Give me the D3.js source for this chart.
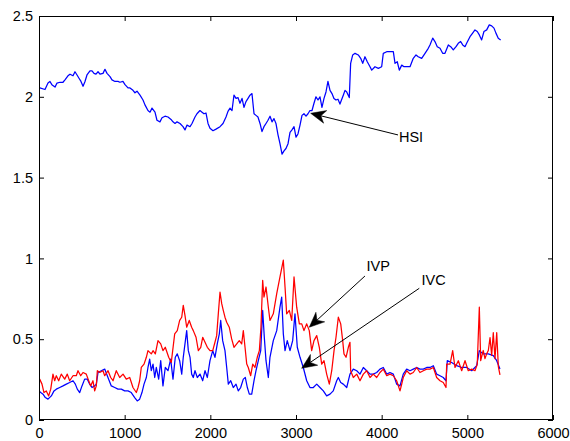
<!DOCTYPE html>
<html><head><meta charset="utf-8">
<script src="https://cdn.jsdelivr.net/npm/d3@7"></script>
<style>body{margin:0;background:#fff}svg{display:block}</style>
</head><body>
<svg id="c" width="570" height="441"></svg>
<script>
// ---- data ----
const xTicks=[0,1000,2000,3000,4000,5000,6000];
const yTicks=[0,0.5,1,1.5,2,2.5];
const hsiX=[0,10,70,105,128,150,187,210,245,280,303,338,362,397,420,444,467,490,514,537,560,595,619,642,665,689,712,747,770,794,829,852,887,922,945,980,1004,1039,1062,1097,1120,1144,1179,1214,1237,1272,1296,1319,1354,1377,1412,1436,1471,1506,1541,1564,1588,1611,1646,1681,1704,1728,1763,1786,1821,1844,1879,1903,1926,1949,1973,1996,2031,2066,2113,2148,2183,2206,2230,2253,2276,2300,2323,2346,2370,2393,2416,2440,2463,2486,2510,2533,2556,2580,2603,2626,2650,2673,2697,2720,2743,2766,2790,2813,2837,2860,2883,2907,2930,2953,2977,3000,3023,3047,3070,3093,3117,3140,3163,3187,3210,3233,3257,3280,3303,3327,3350,3373,3397,3420,3443,3467,3490,3513,3552,3572,3592,3622,3638,3662,3689,3727,3755,3779,3805,3832,3864,3884,3922,3961,4000,4019,4059,4097,4136,4156,4182,4206,4234,4261,4292,4331,4369,4401,4427,4467,4506,4544,4564,4596,4622,4649,4681,4712,4739,4778,4806,4836,4868,4894,4922,4946,4973,4992,5031,5062,5089,5116,5140,5167,5194,5226,5256,5284,5311,5334,5361,5389];
const hsiY=[2.065,2.055,2.045,2.085,2.095,2.075,2.06,2.085,2.09,2.09,2.105,2.13,2.14,2.13,2.155,2.135,2.115,2.095,2.065,2.095,2.135,2.16,2.16,2.145,2.14,2.155,2.14,2.145,2.17,2.145,2.125,2.105,2.095,2.095,2.09,2.095,2.075,2.055,2.055,2.04,2.025,2.035,2.01,1.98,1.95,1.915,1.905,1.93,1.905,1.855,1.845,1.87,1.88,1.875,1.86,1.845,1.835,1.845,1.835,1.815,1.795,1.825,1.815,1.835,1.875,1.895,1.915,1.905,1.895,1.90,1.835,1.805,1.79,1.80,1.815,1.835,1.875,1.91,1.93,1.915,2.01,1.99,1.995,1.96,1.99,1.935,1.97,1.99,2.01,2.02,1.895,1.885,1.875,1.835,1.785,1.815,1.835,1.855,1.88,1.845,1.865,1.835,1.765,1.71,1.645,1.665,1.68,1.71,1.78,1.795,1.815,1.75,1.77,1.825,1.885,1.895,1.88,1.895,1.915,1.915,1.96,2.00,1.98,2.00,1.935,1.99,2.03,2.095,2.04,2.02,1.99,1.98,1.985,1.955,2.01,2.04,2.03,1.995,2.207,2.259,2.269,2.259,2.238,2.207,2.248,2.217,2.186,2.165,2.186,2.176,2.186,2.269,2.279,2.279,2.279,2.207,2.217,2.165,2.196,2.186,2.186,2.186,2.238,2.259,2.248,2.238,2.269,2.30,2.321,2.363,2.342,2.31,2.30,2.269,2.269,2.321,2.31,2.29,2.31,2.331,2.342,2.321,2.31,2.331,2.372,2.394,2.414,2.404,2.383,2.352,2.404,2.414,2.445,2.439,2.425,2.394,2.363,2.352];
const ivcX=[0,20,47,74,105,144,175,202,242,280,319,358,397,424,447,475,502,533,564,592,619,650,669,689,727,767,805,844,884,922,961,1000,1039,1077,1117,1147,1175,1202,1226,1253,1272,1292,1311,1331,1351,1369,1397,1421,1447,1474,1506,1537,1564,1591,1614,1642,1666,1684,1704,1724,1743,1763,1782,1801,1821,1848,1879,1911,1938,1965,1996,2028,2054,2081,2105,2121,2144,2171,2191,2210,2238,2268,2300,2326,2354,2385,2408,2432,2455,2483,2510,2533,2560,2588,2611,2630,2650,2677,2696,2735,2775,2813,2833,2852,2872,2898,2930,2961,2988,3015,3047,3085,3125,3163,3202,3242,3280,3319,3358,3397,3435,3475,3494,3522,3552,3592,3630,3669,3709,3747,3786,3825,3864,3902,3942,3980,4019,4059,4097,4136,4175,4214,4252,4292,4331,4369,4409,4447,4486,4526,4564,4603,4642,4681,4719,4751,4766,4817,4876,4934,4992,5051,5109,5140,5186,5245,5303,5343,5381];
const ivcY=[0.180,0.170,0.160,0.139,0.129,0.149,0.180,0.191,0.201,0.211,0.222,0.232,0.243,0.222,0.191,0.170,0.211,0.253,0.253,0.222,0.201,0.211,0.222,0.294,0.305,0.315,0.263,0.211,0.201,0.191,0.191,0.180,0.180,0.170,0.139,0.118,0.129,0.170,0.222,0.263,0.325,0.377,0.305,0.346,0.263,0.325,0.253,0.367,0.211,0.325,0.305,0.377,0.253,0.388,0.409,0.367,0.284,0.388,0.471,0.553,0.429,0.388,0.284,0.263,0.305,0.263,0.284,0.243,0.305,0.263,0.367,0.429,0.388,0.471,0.533,0.616,0.491,0.429,0.325,0.222,0.243,0.201,0.222,0.180,0.201,0.253,0.263,0.201,0.160,0.160,0.243,0.305,0.367,0.429,0.678,0.512,0.367,0.263,0.388,0.491,0.553,0.698,0.761,0.533,0.429,0.491,0.429,0.491,0.657,0.450,0.388,0.325,0.243,0.201,0.201,0.222,0.201,0.180,0.149,0.160,0.180,0.243,0.263,0.232,0.222,0.201,0.284,0.315,0.305,0.284,0.325,0.305,0.284,0.284,0.294,0.315,0.325,0.284,0.294,0.284,0.222,0.211,0.284,0.315,0.305,0.315,0.325,0.315,0.315,0.325,0.325,0.336,0.284,0.274,0.263,0.243,0.367,0.356,0.336,0.325,0.325,0.305,0.336,0.429,0.409,0.409,0.398,0.367,0.315];
const ivpX=[8,35,58,85,113,137,163,183,202,230,260,300,330,358,397,435,455,487,514,552,580,603,630,650,669,681,709,747,767,806,837,864,902,942,981,1019,1059,1097,1136,1156,1175,1194,1226,1253,1272,1311,1331,1358,1389,1421,1447,1474,1514,1544,1584,1614,1642,1666,1684,1704,1724,1754,1782,1801,1833,1860,1888,1911,1938,1965,1996,2028,2054,2074,2093,2113,2133,2151,2171,2191,2221,2249,2276,2308,2338,2366,2385,2405,2425,2443,2471,2495,2521,2548,2572,2591,2611,2626,2650,2677,2696,2735,2775,2813,2852,2872,2891,2922,2950,2977,3008,3039,3067,3093,3125,3155,3183,3210,3242,3272,3300,3327,3358,3389,3417,3444,3467,3494,3522,3545,3560,3584,3611,3630,3638,3669,3709,3747,3786,3825,3864,3902,3942,3980,4019,4059,4097,4136,4175,4214,4234,4252,4292,4331,4369,4409,4447,4486,4526,4564,4603,4642,4681,4719,4751,4759,4798,4829,4856,4895,4934,4973,5011,5051,5089,5116,5140,5156,5171,5186,5206,5226,5245,5265,5284,5303,5323,5343,5362,5381];
const ivpY=[0.253,0.222,0.170,0.180,0.149,0.191,0.284,0.243,0.274,0.243,0.284,0.253,0.284,0.243,0.274,0.274,0.305,0.274,0.294,0.284,0.243,0.211,0.243,0.180,0.211,0.305,0.294,0.305,0.274,0.305,0.263,0.243,0.305,0.263,0.284,0.253,0.263,0.201,0.170,0.201,0.243,0.325,0.346,0.388,0.429,0.409,0.429,0.409,0.491,0.471,0.429,0.450,0.388,0.356,0.533,0.553,0.616,0.636,0.709,0.647,0.574,0.616,0.574,0.553,0.512,0.429,0.450,0.512,0.481,0.450,0.429,0.429,0.481,0.522,0.657,0.792,0.720,0.678,0.636,0.605,0.574,0.502,0.450,0.471,0.491,0.471,0.553,0.450,0.346,0.325,0.274,0.346,0.325,0.388,0.429,0.574,0.864,0.761,0.823,0.698,0.616,0.657,0.782,0.885,0.989,0.823,0.657,0.678,0.616,0.885,0.698,0.595,0.595,0.553,0.595,0.553,0.429,0.491,0.522,0.450,0.346,0.367,0.284,0.222,0.305,0.429,0.512,0.636,0.595,0.491,0.409,0.388,0.450,0.481,0.305,0.263,0.284,0.243,0.284,0.305,0.263,0.284,0.263,0.294,0.315,0.274,0.284,0.274,0.243,0.180,0.222,0.263,0.305,0.284,0.294,0.325,0.294,0.305,0.315,0.315,0.325,0.263,0.243,0.232,0.201,0.346,0.346,0.429,0.325,0.367,0.305,0.367,0.305,0.315,0.305,0.346,0.698,0.367,0.400,0.430,0.380,0.410,0.430,0.510,0.400,0.540,0.380,0.540,0.330,0.280];
// annotations: text, tail (data), tip (data), text anchor position (data)
const annLabels=["HSI","IVP","IVC"];
const annTail=[[4191,1.764],[3805,0.891],[4439,0.815]];
const annTip=[[3171,1.898],[3155,0.574],[3066,0.320]];
const annText=[[4202,1.751],[3823,0.922],[4465,0.838]];

// ---- chart ----
const svg=d3.select("#c");
const L=39,R=553,T=16,B=420;
const x=d3.scaleLinear().domain([0,6000]).range([L,R]);
const y=d3.scaleLinear().domain([0,2.5]).range([B,T]);
const font="'Liberation Sans', Arial, Helvetica, sans-serif";

svg.append("rect").attr("width",570).attr("height",441).attr("fill","#fff");

const clip=svg.append("defs").append("clipPath").attr("id","pc");
clip.append("rect").attr("x",L).attr("y",T).attr("width",R-L).attr("height",B-T);

const line=d3.line().x(d=>x(d[0])).y(d=>y(d[1]));
const g=svg.append("g").attr("clip-path","url(#pc)");
const series=[
  {xs:hsiX,ys:hsiY,c:"#0000ff"},
  {xs:ivcX,ys:ivcY,c:"#0000ff"},
  {xs:ivpX,ys:ivpY,c:"#ff0000"}
];
series.forEach(s=>{
  g.append("path").datum(s.xs.map((v,i)=>[v,s.ys[i]]))
   .attr("d",line).attr("fill","none").attr("stroke",s.c)
   .attr("stroke-width",1.25).attr("stroke-linejoin","round");
});

// axes
function styleAxis(sel){
  sel.select(".domain").remove();
  sel.selectAll(".tick line").attr("stroke","#000").attr("stroke-width",1);
  sel.selectAll(".tick text").attr("fill","#000").style("font-family",font).style("font-size","14.5px");
}
svg.append("g").attr("transform",`translate(0,${B})`)
  .call(d3.axisBottom(x).tickValues(xTicks).tickFormat(d3.format("d")).tickSizeInner(-5).tickSizeOuter(0).tickPadding(8)).call(styleAxis);
svg.append("g").attr("transform",`translate(0,${T})`)
  .call(d3.axisTop(x).tickValues(xTicks).tickFormat("").tickSizeInner(-5).tickSizeOuter(0)).call(styleAxis);
svg.append("g").attr("transform",`translate(${L},0)`)
  .call(d3.axisLeft(y).tickValues(yTicks).tickFormat(d=>String(d)).tickSizeInner(-5).tickSizeOuter(0).tickPadding(6)).call(styleAxis);
svg.append("g").attr("transform",`translate(${R},0)`)
  .call(d3.axisRight(y).tickValues(yTicks).tickFormat("").tickSizeInner(-5).tickSizeOuter(0)).call(styleAxis);

svg.append("rect").attr("x",L+0.5).attr("y",T+0.5).attr("width",R-L-1).attr("height",B-T-1)
  .attr("fill","none").attr("stroke","#000").attr("stroke-width",1);

// annotations
const ag=svg.append("g");
annLabels.forEach((t,i)=>{
  const tx=x(annTail[i][0]),ty=y(annTail[i][1]);
  const hx=x(annTip[i][0]),hy=y(annTip[i][1]);
  const dx=hx-tx,dy=hy-ty,len=Math.hypot(dx,dy);
  const ux=dx/len,uy=dy/len,nx=-uy,ny=ux;
  const HL=15,HW=6.5,notch=0.7;
  const bx=hx-HL*ux,by=hy-HL*uy;
  const mx=hx-HL*notch*ux,my=hy-HL*notch*uy;
  ag.append("line").attr("x1",tx).attr("y1",ty).attr("x2",mx).attr("y2",my)
    .attr("stroke","#000").attr("stroke-width",1);
  ag.append("path").attr("d",`M${hx},${hy}L${bx+HW*nx},${by+HW*ny}L${mx},${my}L${bx-HW*nx},${by-HW*ny}Z`)
    .attr("fill","#000").attr("stroke","#000").attr("stroke-width",0.5);
  const tt=ag.append("text").attr("x",x(annText[i][0])).attr("y",y(annText[i][1]))
    .attr("fill","#000").style("font-family",font).style("font-size","14.5px").text(t);
  if(i===0) tt.attr("dy","0.35em");
});
</script>
</body></html>
